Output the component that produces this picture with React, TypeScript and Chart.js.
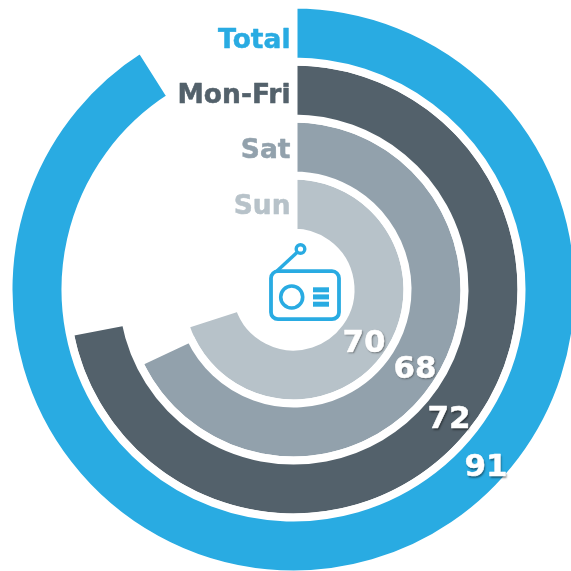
import React, { useEffect, useRef } from "react";
import { Chart, registerables } from "chart.js";

Chart.register(...registerables);

const categories = ["Total", "Mon-Fri", "Sat", "Sun"];
const values = [91, 72, 68, 70];
const colors = ["#29ABE2", "#53616B", "#92A1AC", "#B7C2C9"];

const nameBaselines = [48, 103, 158, 214];
const valueCentres = [
  [486, 468],
  [449, 420],
  [415, 369.5],
  [364, 343.5],
];

const labelsPlugin = {
  id: "radialLabels",
  afterDraw(chart: any) {
    const ctx = chart.ctx;
    ctx.save();
    ctx.font = "bold 26.5px 'DejaVu Sans'";
    ctx.textAlign = "right";
    ctx.textBaseline = "alphabetic";
    ctx.lineWidth = 0.5;
    ctx.lineJoin = "round";
    categories.forEach((name, i) => {
      ctx.fillStyle = colors[i];
      ctx.strokeStyle = colors[i];
      ctx.fillText(name, 290.5, nameBaselines[i]);
      ctx.strokeText(name, 290.5, nameBaselines[i]);
    });
    ctx.font = "bold 31px 'DejaVu Sans'";
    ctx.textAlign = "center";
    ctx.textBaseline = "middle";
    ctx.shadowColor = "rgba(0,0,0,0.45)";
    ctx.shadowBlur = 2;
    ctx.shadowOffsetX = 1;
    ctx.shadowOffsetY = 1.5;
    ctx.fillStyle = "#FFFFFF";
    ctx.strokeStyle = "#FFFFFF";
    values.forEach((v, i) => {
      ctx.fillText(String(v), valueCentres[i][0], valueCentres[i][1]);
    });
    ctx.shadowColor = "rgba(0,0,0,0)";
    values.forEach((v, i) => {
      ctx.strokeText(String(v), valueCentres[i][0], valueCentres[i][1]);
    });
    ctx.restore();
  },
};

export default function App() {
  const ref = useRef<HTMLCanvasElement>(null);

  useEffect(() => {
    const chart = new Chart(ref.current as HTMLCanvasElement, {
      type: "doughnut",
      data: {
        labels: ["Share", "Rest"],
        datasets: values.map((v, i) => ({
          label: categories[i],
          data: [v, 100 - v],
          backgroundColor: [colors[i], "rgba(0,0,0,0)"],
          borderColor: ["#FFFFFF", "rgba(0,0,0,0)"],
          borderWidth: 8,
        })),
      },
      options: {
        responsive: false,
        animation: false,
        radius: 285,
        cutout: "20%",
        layout: { padding: 0 },
        plugins: { legend: { display: false }, tooltip: { enabled: false } },
      },
      plugins: [labelsPlugin],
    } as any);
    return () => chart.destroy();
  }, []);

  return (
    <div style={{ position: "fixed", left: 0, top: 0, width: 571, height: 571, overflow: "hidden", background: "#fff" }}>
      <canvas ref={ref} width={587} height={579} style={{ display: "block", width: 587, height: 579 }} />
      <svg width={571} height={571} style={{ position: "absolute", left: 0, top: 0 }} fill="none" stroke="#29ABE2">
        <rect x={271} y={271.2} width={68} height={48} rx={7} strokeWidth={3.8} />
        <circle cx={291.7} cy={297} r={11} strokeWidth={3.6} />
        <line x1={277} y1={271} x2={297.5} y2={252} strokeWidth={3.5} />
        <circle cx={300.5} cy={249} r={4.3} strokeWidth={3.4} />
        <g fill="#29ABE2" stroke="none">
          <rect x={313} y={287.3} width={16} height={5} />
          <rect x={313} y={294.4} width={16} height={5} />
          <rect x={313} y={301.7} width={16} height={5} />
        </g>
      </svg>
    </div>
  );
}
